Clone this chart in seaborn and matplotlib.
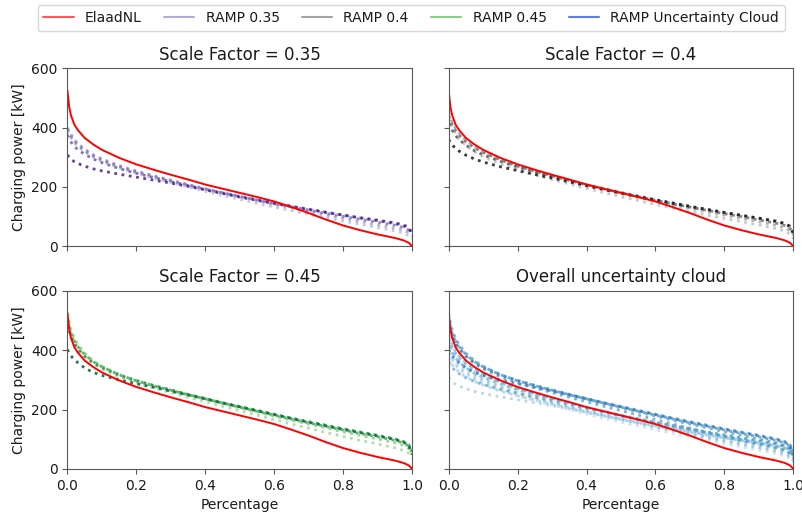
import numpy as np
import pandas as pd
import matplotlib
matplotlib.use("Agg")
import matplotlib.pyplot as plt
from matplotlib.lines import Line2D
import seaborn as sns

# Load-duration curves: share of time (x) vs. charging power in kW
pct = [0.0, 0.005, 0.01, 0.02, 0.03, 0.05, 0.075, 0.1, 0.15, 0.2,
       0.25, 0.3, 0.35, 0.4, 0.45, 0.5, 0.55, 0.6, 0.65, 0.7,
       0.75, 0.8, 0.85, 0.9, 0.95, 0.975, 0.99, 1.0]

elaad = [525, 470, 442, 410, 392, 365, 343, 325, 298, 276,
         258, 241, 225, 208, 194, 180, 166, 151, 132, 112,
         90, 70, 54, 40, 28, 20, 12, 0]

ramp_035 = [
    [390, 375, 365, 348, 336, 318, 300, 286, 264, 246, 230, 215, 200, 185,
     171, 158, 145, 132, 120, 108, 96, 85, 74, 63, 52, 44, 36, 24],
    [400, 388, 378, 360, 347, 328, 309, 295, 272, 254, 238, 223, 208, 194,
     180, 167, 154, 141, 129, 117, 105, 94, 83, 72, 61, 54, 46, 32],
    [395, 382, 372, 355, 342, 323, 305, 291, 269, 251, 236, 221, 207, 193,
     180, 168, 156, 144, 133, 122, 111, 101, 91, 81, 71, 63, 55, 40],
    [375, 362, 352, 337, 326, 310, 294, 282, 262, 246, 232, 218, 205, 192,
     180, 168, 157, 146, 135, 125, 115, 105, 95, 86, 76, 68, 60, 44],
    [308, 300, 294, 285, 279, 270, 261, 254, 243, 233, 223, 213, 202, 190,
     178, 166, 155, 144, 134, 124, 114, 105, 96, 88, 79, 72, 64, 42],
]

ramp_040 = [
    [435, 415, 400, 378, 362, 340, 318, 302, 278, 258, 241, 225, 210, 195,
     181, 167, 154, 141, 129, 117, 105, 94, 83, 72, 60, 51, 42, 26],
    [450, 432, 418, 396, 380, 357, 335, 318, 292, 271, 253, 237, 221, 206,
     192, 178, 165, 152, 140, 128, 116, 105, 94, 83, 71, 62, 53, 38],
    [440, 424, 411, 390, 375, 353, 332, 316, 291, 270, 253, 237, 222, 207,
     193, 180, 167, 155, 143, 132, 121, 110, 100, 89, 78, 70, 61, 44],
    [415, 402, 391, 373, 360, 341, 322, 308, 286, 267, 251, 236, 221, 207,
     194, 181, 169, 157, 146, 135, 124, 114, 104, 94, 83, 75, 66, 46],
    [360, 350, 342, 330, 321, 307, 294, 284, 268, 255, 242, 230, 217, 204,
     191, 179, 167, 156, 145, 134, 124, 114, 104, 95, 85, 77, 68, 42],
]

ramp_045 = [
    [515, 480, 458, 428, 408, 380, 355, 337, 310, 290, 273, 257, 241, 226,
     211, 196, 181, 166, 151, 137, 123, 109, 96, 84, 71, 62, 53, 36],
    [525, 492, 470, 440, 419, 390, 364, 346, 318, 298, 281, 265, 250, 235,
     220, 206, 192, 178, 164, 151, 138, 125, 113, 101, 88, 79, 69, 50],
    [505, 477, 458, 431, 412, 385, 361, 344, 317, 297, 280, 265, 250, 236,
     222, 208, 194, 181, 168, 155, 143, 131, 119, 108, 96, 87, 77, 55],
    [490, 465, 447, 422, 404, 379, 357, 341, 316, 297, 281, 266, 251, 237,
     223, 210, 197, 184, 171, 159, 147, 135, 124, 113, 101, 92, 82, 58],
    [402, 390, 381, 368, 358, 340, 325, 315, 300, 287, 275, 262, 249, 236,
     222, 209, 196, 183, 170, 157, 145, 133, 122, 111, 99, 90, 80, 48],
]

scale_factors = ["0.35", "0.4", "0.45"]
ramp_runs = [ramp_035, ramp_040, ramp_045]
cmaps = ["Purples", "Greys", "Greens"]


def runs_frame(runs, tag):
    rows = []
    for i, run in enumerate(runs):
        for x, y in zip(pct, run):
            rows.append({"pct": x, "power": y, "run": f"{tag}_{i}"})
    return pd.DataFrame(rows)


sns.set_style("ticks", {"axes.edgecolor": ".35", "xtick.color": ".35",
                        "ytick.color": ".35", "text.color": ".1",
                        "axes.labelcolor": ".1"})
plt.rcParams["font.family"] = ["DejaVu Sans"]
plt.rcParams["xtick.labelcolor"] = ".1"
plt.rcParams["ytick.labelcolor"] = ".1"

fig, axes = plt.subplots(2, 2, figsize=(8.03, 5.13), dpi=100,
                         sharex=True, sharey=True)
fig.subplots_adjust(left=0.084, right=0.988, top=0.867, bottom=0.086,
                    wspace=0.106, hspace=0.25)

elaad_df = pd.DataFrame({"pct": pct, "power": elaad})
ax_list = [axes[0, 0], axes[0, 1], axes[1, 0]]

all_frames = []
for ax, sf, runs, cmap in zip(ax_list, scale_factors, ramp_runs, cmaps):
    df = runs_frame(runs, sf)
    all_frames.append(df)
    pal = sns.color_palette(cmap, 10)[3:]
    pal = [pal[i] for i in np.linspace(0, len(pal) - 1, len(runs)).astype(int)]
    sns.lineplot(data=df, x="pct", y="power", hue="run", palette=pal,
                 linestyle=":", linewidth=2.0, alpha=0.85, legend=False, ax=ax)
    sns.lineplot(data=elaad_df, x="pct", y="power", color="red",
                 linewidth=1.4, ax=ax)
    ax.set_title(f"Scale Factor = {sf}", fontsize=12)

# Every run from all three scale factors together
ax = axes[1, 1]
cloud = pd.concat(all_frames, ignore_index=True)
n_runs = cloud["run"].nunique()
blues = sns.color_palette("Blues", 20)[5:16]
blues = [blues[i] for i in np.linspace(0, len(blues) - 1, n_runs).astype(int)]
sns.lineplot(data=cloud, x="pct", y="power", hue="run", palette=blues,
             linestyle=":", linewidth=2.0, alpha=0.7, legend=False, ax=ax)
sns.lineplot(data=elaad_df, x="pct", y="power", color="red",
             linewidth=1.4, ax=ax)
ax.set_title("Overall uncertainty cloud", fontsize=12)

for ax in axes.flat:
    ax.set_xlim(0, 1)
    ax.set_ylim(0, 600)
    ax.set_yticks([0, 200, 400, 600])
    ax.set_xticks([0.0, 0.2, 0.4, 0.6, 0.8, 1.0])
    ax.set_xlabel("")
    ax.set_ylabel("")
    ax.tick_params(labelsize=10)

for ax in axes[:, 0]:
    ax.set_ylabel("Charging power [kW]", fontsize=10)
for ax in axes[1, :]:
    ax.set_xlabel("Percentage", fontsize=10)

handles = [
    Line2D([], [], color="#ff5a5a", lw=1.5, label="ElaadNL"),
    Line2D([], [], color="#b2acd8", lw=1.5, label="RAMP 0.35"),
    Line2D([], [], color="#a3a3a3", lw=1.5, label="RAMP 0.4"),
    Line2D([], [], color="#88d088", lw=1.5, label="RAMP 0.45"),
    Line2D([], [], color="#5a7ee6", lw=1.5, label="RAMP Uncertainty Cloud"),
]
fig.legend(handles=handles, loc="upper center", bbox_to_anchor=(0.512, 1.003),
           ncol=5, fontsize=10, frameon=True, columnspacing=1.6,
           handlelength=2.2, fancybox=True, edgecolor="0.8")

fig.savefig("out.png", dpi=100)
